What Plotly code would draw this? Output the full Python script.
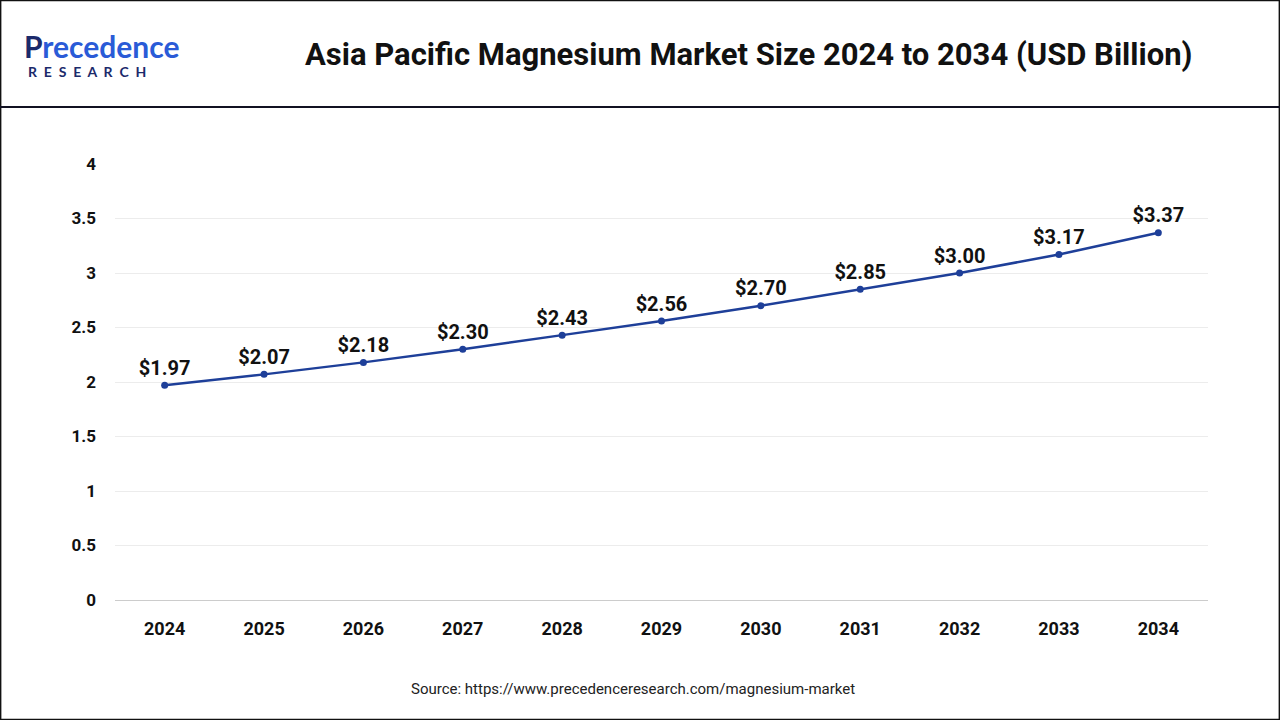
import plotly.graph_objects as go

years = ["2024", "2025", "2026", "2027", "2028", "2029", "2030", "2031", "2032", "2033", "2034"]
values = [1.97, 2.07, 2.18, 2.30, 2.43, 2.56, 2.70, 2.85, 3.00, 3.17, 3.37]
labels = ["<b>$%.2f</b>" % v for v in values]

fig = go.Figure(go.Scatter(
    x=years, y=values, mode="lines+markers+text",
    line=dict(color="#1e3f99", width=2.5),
    marker=dict(size=7, color="#1e3f99"),
    text=labels, textposition="top center",
    textfont=dict(family="Roboto", size=20, color="#111111"),
    cliponaxis=False,
))

fig.update_layout(
    width=1280, height=720,
    margin=dict(l=0, r=0, t=0, b=0, autoexpand=False),
    paper_bgcolor="white", plot_bgcolor="white",
    font=dict(family="Roboto", color="#111111"),
    showlegend=False,
    xaxis=dict(domain=[115 / 1280, 1208 / 1280], range=[-0.5, 10.5], showgrid=False, automargin=False,
               showline=True, linecolor="#cccccc", ticklabelstandoff=12,
               tickfont=dict(size=18, color="#111111", weight="bold"), ticks=""),
    yaxis=dict(domain=[120 / 720, 556 / 720], range=[0, 4], dtick=0.5, automargin=False,
               gridcolor="#ececec", zeroline=False, showline=False,
               tickfont=dict(size=17, color="#111111", weight="bold"),
               tickformat="~g", ticklabelstandoff=18),
    shapes=[
        dict(type="rect", xref="paper", yref="paper", x0=0.0005, x1=0.9995, y0=0.0007, y1=0.9993,
             line=dict(color="#111111", width=1.5)),
        dict(type="line", xref="paper", yref="paper", x0=0, x1=1, y0=1 - 107 / 720, y1=1 - 107 / 720,
             line=dict(color="#111122", width=2)),
    ],
    annotations=[
        dict(text="<b>Asia Pacific Magnesium Market Size 2024 to 2034 (USD Billion)</b>",
             x=748 / 1280, y=1 - 55 / 720, xref="paper", yref="paper", showarrow=False,
             yanchor="middle", font=dict(size=31, family="Roboto", color="#111111")),
        dict(text="<b><span style='color:#1b2a6b'>P</span><span style='color:#2a5bd7'>recedence</span></b>",
             x=22 / 1280, y=1 - 46 / 720, xref="paper", yref="paper", showarrow=False,
             xanchor="left", yanchor="middle", font=dict(size=30, family="Lato")),
        dict(text="<b>R  E  S  E  A  R  C  H</b>",
             x=26 / 1280, y=1 - 72 / 720, xref="paper", yref="paper", showarrow=False,
             xanchor="left", yanchor="middle", font=dict(size=14, family="Lato", color="#1b2a6b")),
        dict(text="Source: https://www.precedenceresearch.com/magnesium-market",
             x=633 / 1280, y=1 - 689 / 720, xref="paper", yref="paper", showarrow=False,
             yanchor="middle", font=dict(size=15, family="Roboto", color="#222222")),
    ],
)

fig.write_html("out.html", config={"displayModeBar": False},
               post_script="document.body.style.margin='0';document.body.style.overflow='hidden';")
